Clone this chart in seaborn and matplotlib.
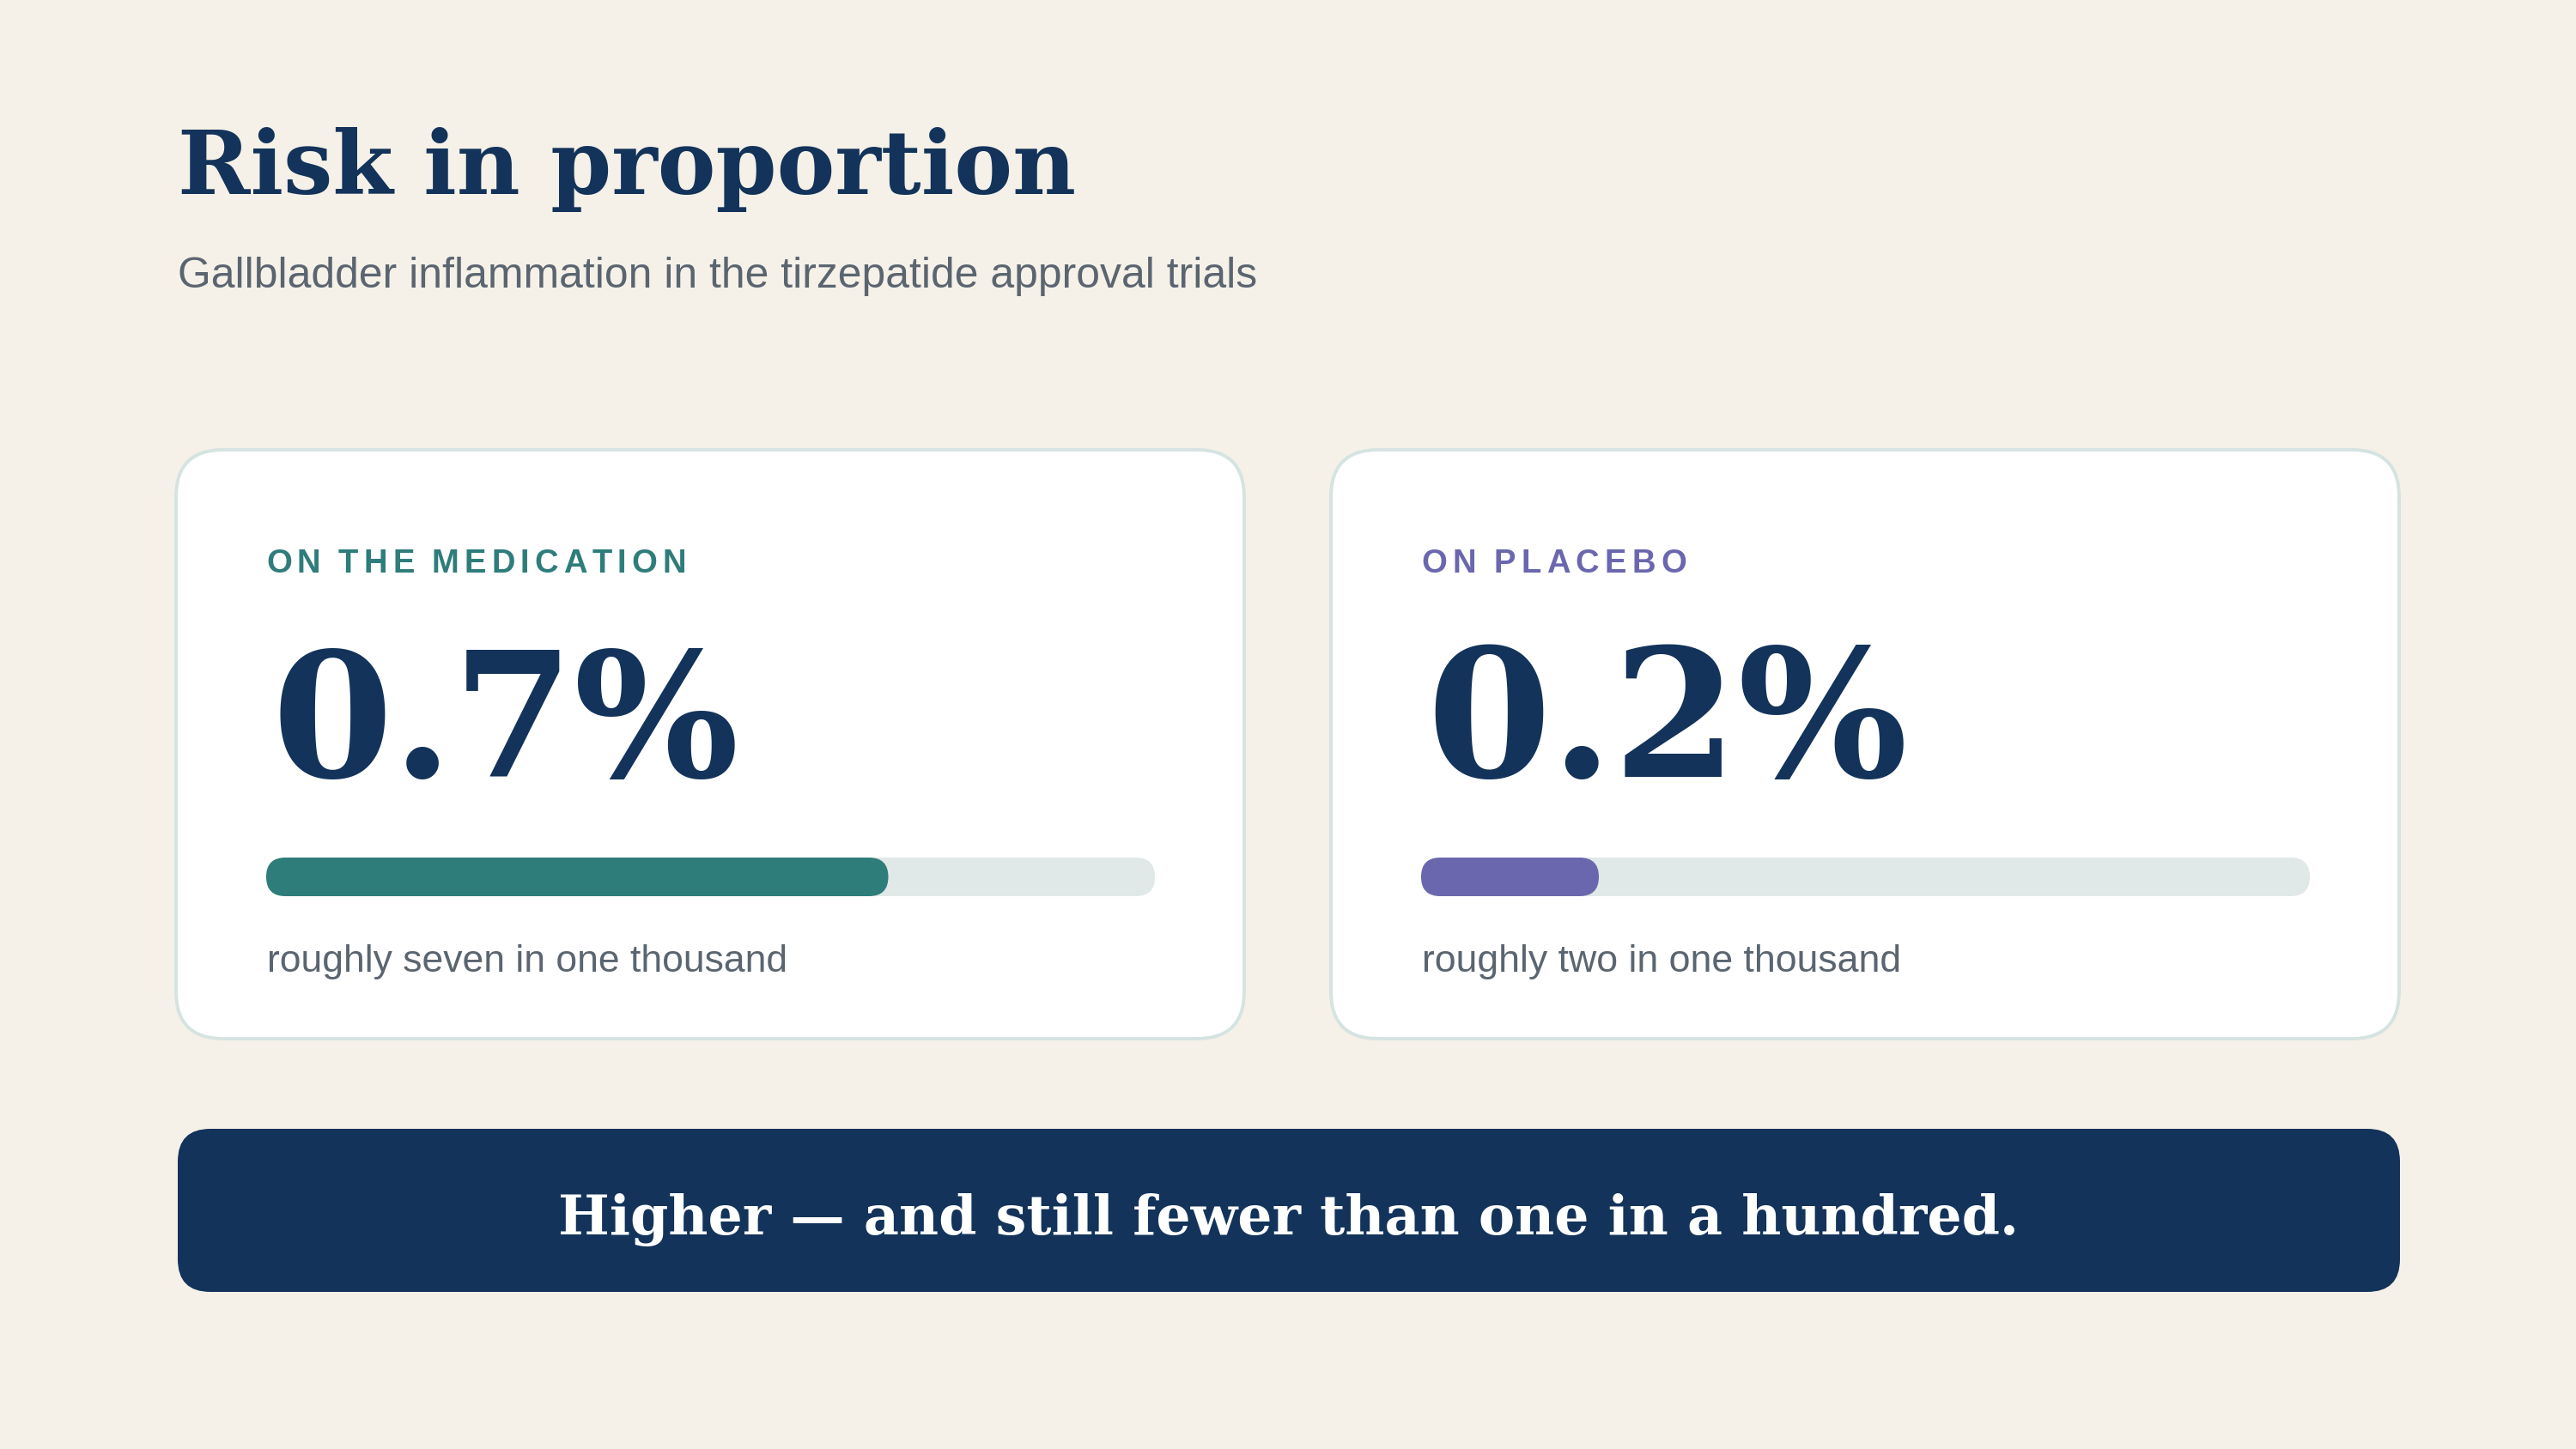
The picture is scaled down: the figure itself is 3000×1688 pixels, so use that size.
import matplotlib
matplotlib.use("Agg")
import matplotlib.pyplot as plt
import seaborn as sns
from matplotlib.patches import FancyBboxPatch

# ---------------- data ----------------
title = "Risk in proportion"
subtitle = "Gallbladder inflammation in the tirzepatide approval trials"
groups = ["ON THE MEDICATION", "ON PLACEBO"]
rates = [0.7, 0.2]            # percent of participants
captions = ["roughly seven in one thousand", "roughly two in one thousand"]
scale_max = 1.0               # bar track spans 0 – 1 %
banner = "Higher \u2014 and still fewer than one in a hundred."

# ---------------- style ----------------
BG = "#f5f1e8"
NAVY = "#13335a"
GRAY = "#5b6570"
TRACK = "#e0e8e8"
BORDER = "#d5e3e1"
accent = ["#2e7d7b", "#6b67ae"]

sns.set_theme(style="white")
plt.rcParams["font.family"] = ["Liberation Sans", "DejaVu Sans"]

W, H = 3000, 1688
fig = plt.figure(figsize=(W / 100, H / 100), dpi=100, facecolor=BG)
ov = fig.add_axes([0, 0, 1, 1])
ov.set_xlim(0, W)
ov.set_ylim(H, 0)
ov.axis("off")
ov.patch.set_alpha(0)
R = fig.canvas.get_renderer()

SERIF = ["DejaVu Serif"]
SANS = ["Liberation Sans", "DejaVu Sans"]


def fit_text(x, y, s, target_w, family, weight="normal", color=NAVY, ha="left"):
    t = ov.text(x, y, s, fontsize=50, family=family, weight=weight,
                color=color, ha=ha, va="baseline")
    w = t.get_window_extent(R).width
    t.set_fontsize(50 * target_w / w)
    return t


def spaced_text(x, y, s, fs, color, target_w):
    widths = []
    for c in s:
        if c == " ":
            widths.append(None)
            continue
        t = ov.text(0, 0, c, fontsize=fs, family=SANS, weight="bold")
        widths.append(t.get_window_extent(R).width)
        t.remove()
    space_w = 0.22 * fs * 100 / 72
    ink = sum(w for w in widths if w) + space_w * s.count(" ")
    gap = (target_w - ink) / (len(s) - 1)
    cx = x
    for c, w in zip(s, widths):
        if w is None:
            cx += space_w + gap
            continue
        ov.text(cx, y, c, fontsize=fs, family=SANS, weight="bold",
                color=color, ha="left", va="baseline")
        cx += w + gap


def rbox(x, y, w, h, r, **kw):
    p = FancyBboxPatch((x, y), w, h, boxstyle=f"round,pad=0,rounding_size={r}",
                       transform=ov.transData, **kw)
    return p


# ---------------- header ----------------
fit_text(207, 226, title, 1047, SERIF, weight="bold", color=NAVY)
fit_text(207, 335, subtitle, 1256, SANS, color=GRAY)

# ---------------- cards ----------------
card_x = [205, 1550]
card_y, card_w, card_h = 524, 1244, 686
label_w = [489, 309]
num_w = [545, 561]
cap_w = [607, 558]

for i, (grp, rate, cap) in enumerate(zip(groups, rates, captions)):
    cx = card_x[i]
    ov.add_patch(rbox(cx, card_y, card_w, card_h, 55, facecolor="white",
                      edgecolor=BORDER, linewidth=2.8, zorder=1))
    lx = cx + 108
    spaced_text(lx - 3, 667, grp, 27.5, accent[i], label_w[i])
    t = fit_text(lx + 3, 905, f"{rate:.1f}%", num_w[i], SERIF, weight="bold", color=NAVY)
    t.set_zorder(3)
    c = fit_text(lx - 2, 1132, cap, cap_w[i], SANS, color=GRAY)
    c.set_zorder(3)

    # track
    tx, ty, tw, th = lx - 3, 999, 1035, 45
    ov.add_patch(rbox(tx, ty, tw, th, th / 2, facecolor=TRACK,
                      edgecolor="none", zorder=2))
    # bar drawn by seaborn on an axes aligned with the track
    bax = fig.add_axes([tx / W, 1 - (ty + th) / H, tw / W, th / H])
    bax.set_zorder(5)
    sns.barplot(x=[rate], y=[grp], orient="h", color=accent[i], width=1.0,
                saturation=1, linewidth=0, ax=bax)
    bax.set_xlim(0, scale_max)
    bax.set_ylim(0.5, -0.5)
    bax.axis("off")
    bax.patch.set_alpha(0)
    x_end = ov.transData.inverted().transform(bax.transData.transform((rate, 0)))[0]
    clip = rbox(tx, ty, x_end - tx, th, th / 2)
    for p in bax.patches:
        p.set_clip_path(clip)

# ---------------- banner ----------------
ov.add_patch(rbox(207, 1315, 2588, 190, 38, facecolor=NAVY, edgecolor="none", zorder=1))
b = fit_text(1500, 1438, banner, 1700, SERIF, weight="bold", color="white", ha="center")
b.set_zorder(3)

fig.savefig("out.png", dpi=100, facecolor=BG)
